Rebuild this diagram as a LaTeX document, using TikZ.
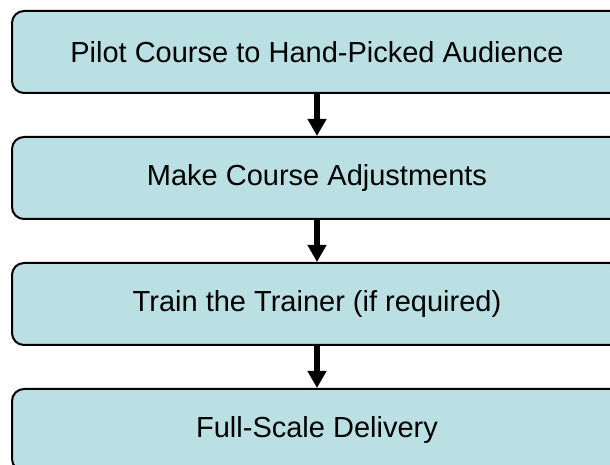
\documentclass[tikz,border=0pt]{standalone}
\usepackage{fontspec}
\setmainfont{Liberation Sans}
\usetikzlibrary{positioning,arrows.meta}
\definecolor{boxfill}{RGB}{187,224,227}
\begin{document}
\begin{tikzpicture}[x=1pt, y=1pt, font=\fontsize{29}{34}\selectfont,
    stage/.style={draw=black, line width=2pt, fill=boxfill, rounded corners=12pt,
        minimum width=610pt, minimum height=82pt, inner sep=0pt},
    flow/.style={line width=6pt, -{Triangle[width=18pt, length=17pt]}}]
    % --- FRAME (boxes run off the right and bottom edges) ---
    \useasboundingbox (0,0) rectangle (610,465);
    \clip (0,0) rectangle (610,465);

    % --- STAGES ---
    \node[stage] (pilot) at (317,413) {Pilot Course to Hand-Picked Audience};
    \node[stage, below=42pt of pilot] (adjust) {Make Course Adjustments};
    \node[stage, below=42pt of adjust] (trainer) {Train the Trainer (if required)};
    \node[stage, below=42pt of trainer] (delivery) {Full-Scale Delivery};

    % --- ARROWS ---
    \foreach \a/\b in {pilot/adjust, adjust/trainer, trainer/delivery}
        \draw[flow] (\a) -- (\b);
\end{tikzpicture}
\end{document}
